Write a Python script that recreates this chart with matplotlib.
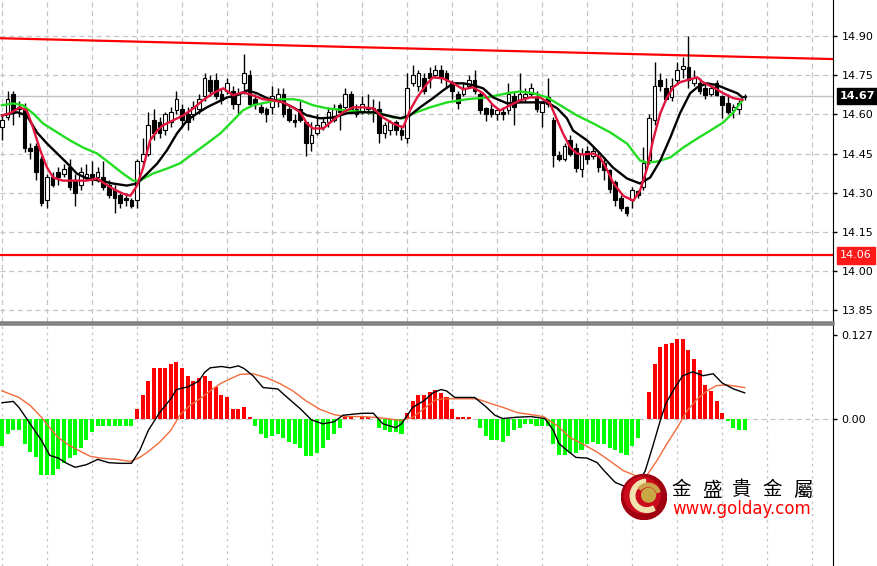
import numpy as np
import matplotlib
matplotlib.use("Agg")
import matplotlib.pyplot as plt
from matplotlib.patches import Circle, Wedge

plt.rcParams['font.family'] = ['DejaVu Sans', 'Noto Sans CJK TC']

# ---- candles (one per bar, bar 0 .. 132) ----
opens = [14.55, 14.59, 14.68, 14.63, 14.62, 14.47, 14.48, 14.43, 14.27, 14.36,
         14.38, 14.37, 14.40, 14.35, 14.33, 14.36, 14.37, 14.36, 14.36, 14.33,
         14.31, 14.29, 14.28, 14.27, 14.27, 14.42, 14.45, 14.58, 14.57, 14.54,
         14.57, 14.615, 14.62, 14.60, 14.60, 14.62, 14.67, 14.73, 14.73, 14.68,
         14.69, 14.69, 14.64, 14.72, 14.75, 14.66, 14.63, 14.62, 14.63, 14.65,
         14.68, 14.62, 14.58, 14.62, 14.57, 14.49, 14.53, 14.55, 14.57, 14.58,
         14.635, 14.63, 14.68, 14.62, 14.61, 14.63, 14.62, 14.62, 14.53, 14.54,
         14.57, 14.54, 14.51, 14.72, 14.71, 14.74, 14.76, 14.75, 14.77, 14.76,
         14.72, 14.68, 14.68, 14.71, 14.73, 14.68, 14.625, 14.62, 14.60, 14.61,
         14.615, 14.67, 14.655, 14.665, 14.68, 14.665, 14.61, 14.665, 14.58, 14.445,
         14.43, 14.50, 14.47, 14.39, 14.46, 14.44, 14.44, 14.415, 14.385, 14.34,
         14.28, 14.245, 14.27, 14.305, 14.32, 14.425, 14.577, 14.73, 14.70, 14.665,
         14.73, 14.775, 14.78, 14.72, 14.72, 14.70, 14.68, 14.72, 14.67, 14.645,
         14.615, 14.62, 14.665]
highs = [14.60, 14.69, 14.69, 14.65, 14.645, 14.49, 14.49, 14.44, 14.37, 14.38,
         14.40, 14.41, 14.43, 14.37, 14.40, 14.41, 14.42, 14.40, 14.42, 14.35,
         14.33, 14.30, 14.30, 14.28, 14.43, 14.51, 14.61, 14.62, 14.59, 14.61,
         14.63, 14.69, 14.64, 14.63, 14.65, 14.68, 14.76, 14.75, 14.76, 14.70,
         14.74, 14.71, 14.70, 14.83, 14.77, 14.68, 14.64, 14.63, 14.71, 14.70,
         14.70, 14.63, 14.60, 14.65, 14.57, 14.57, 14.60, 14.59, 14.63, 14.64,
         14.645, 14.70, 14.69, 14.64, 14.67, 14.68, 14.66, 14.65, 14.57, 14.58,
         14.58, 14.56, 14.76, 14.79, 14.77, 14.76, 14.78, 14.79, 14.79, 14.77,
         14.73, 14.69, 14.72, 14.75, 14.77, 14.69, 14.63, 14.64, 14.62, 14.63,
         14.72, 14.69, 14.76, 14.70, 14.72, 14.69, 14.65, 14.74, 14.59, 14.46,
         14.49, 14.52, 14.49, 14.47, 14.48, 14.48, 14.46, 14.43, 14.39, 14.35,
         14.29, 14.25, 14.32, 14.31, 14.475, 14.60, 14.80, 14.76, 14.74, 14.74,
         14.80, 14.82, 14.90, 14.77, 14.74, 14.72, 14.71, 14.73, 14.675, 14.68,
         14.64, 14.655, 14.68]
lows = [14.50, 14.58, 14.56, 14.59, 14.455, 14.43, 14.35, 14.25, 14.24, 14.32,
        14.33, 14.36, 14.31, 14.25, 14.31, 14.35, 14.33, 14.34, 14.31, 14.28,
        14.22, 14.24, 14.25, 14.24, 14.24, 14.41, 14.44, 14.50, 14.51, 14.52,
        14.55, 14.60, 14.55, 14.54, 14.58, 14.60, 14.65, 14.67, 14.66, 14.64,
        14.68, 14.62, 14.60, 14.68, 14.63, 14.62, 14.60, 14.57, 14.60, 14.63,
        14.59, 14.57, 14.55, 14.57, 14.44, 14.46, 14.52, 14.54, 14.55, 14.57,
        14.54, 14.61, 14.61, 14.59, 14.60, 14.60, 14.57, 14.49, 14.51, 14.52,
        14.52, 14.50, 14.49, 14.71, 14.69, 14.68, 14.70, 14.74, 14.72, 14.70,
        14.66, 14.62, 14.67, 14.70, 14.68, 14.60, 14.575, 14.59, 14.58, 14.58,
        14.60, 14.56, 14.65, 14.65, 14.67, 14.61, 14.55, 14.63, 14.40, 14.42,
        14.42, 14.44, 14.38, 14.36, 14.41, 14.43, 14.38, 14.35, 14.30, 14.25,
        14.23, 14.21, 14.24, 14.28, 14.31, 14.41, 14.56, 14.69, 14.655, 14.65,
        14.72, 14.74, 14.70, 14.71, 14.68, 14.66, 14.67, 14.67, 14.585, 14.60,
        14.585, 14.60, 14.655]
closes = [14.58, 14.66, 14.61, 14.62, 14.47, 14.46, 14.38, 14.26, 14.36, 14.33,
          14.36, 14.39, 14.32, 14.30, 14.38, 14.37, 14.36, 14.38, 14.32, 14.29,
          14.28, 14.26, 14.27, 14.25, 14.42, 14.45, 14.56, 14.53, 14.53, 14.60,
          14.61, 14.66, 14.58, 14.57, 14.63, 14.66, 14.74, 14.69, 14.67, 14.655,
          14.72, 14.64, 14.68, 14.76, 14.64, 14.64, 14.61, 14.60, 14.67, 14.68,
          14.60, 14.58, 14.57, 14.58, 14.49, 14.52, 14.56, 14.57, 14.61, 14.62,
          14.61, 14.68, 14.62, 14.60, 14.64, 14.62, 14.62, 14.53, 14.56, 14.57,
          14.54, 14.52, 14.70, 14.75, 14.76, 14.69, 14.74, 14.77, 14.74, 14.73,
          14.69, 14.645, 14.70, 14.73, 14.69, 14.615, 14.60, 14.60, 14.615, 14.60,
          14.68, 14.63, 14.68, 14.68, 14.70, 14.62, 14.645, 14.64, 14.445, 14.43,
          14.48, 14.45, 14.395, 14.45, 14.43, 14.46, 14.40, 14.385, 14.315, 14.27,
          14.24, 14.22, 14.31, 14.29, 14.415, 14.585, 14.71, 14.71, 14.66, 14.71,
          14.77, 14.785, 14.73, 14.74, 14.69, 14.675, 14.70, 14.675, 14.635, 14.61,
          14.63, 14.645, 14.67]

# ---- moving averages, read as (bar, price) ----
ma_fast = [(0, 14.596), (1.4, 14.604), (3.2, 14.627), (4.4, 14.615), (5.5, 14.55),
           (6.8, 14.462), (8.0, 14.396), (9.1, 14.358), (10.8, 14.346), (13.3, 14.346),
           (15.1, 14.346), (16.9, 14.354), (18.0, 14.338), (19.7, 14.315), (21.5, 14.296),
           (22.8, 14.288), (24.0, 14.327), (25.1, 14.396), (26.3, 14.50), (27.6, 14.538),
           (28.6, 14.558), (30.4, 14.577), (32.2, 14.596), (34.0, 14.623), (35.7, 14.654),
           (37.5, 14.681), (39.3, 14.70), (41.1, 14.673), (42.8, 14.685), (44.6, 14.673),
           (46.4, 14.658), (48.2, 14.654), (50.0, 14.646), (51.7, 14.627), (53.0, 14.608),
           (54.2, 14.565), (55.3, 14.546), (57.1, 14.546), (58.8, 14.577), (60.6, 14.608),
           (62.4, 14.627), (64.2, 14.627), (66.0, 14.623), (67.7, 14.588), (69.5, 14.565),
           (71.3, 14.55), (72.5, 14.615), (73.8, 14.665), (75.6, 14.719), (76.6, 14.742),
           (78.4, 14.738), (80.2, 14.719), (82.0, 14.696), (83.7, 14.704), (85.5, 14.681),
           (87.3, 14.635), (88.5, 14.615), (90.3, 14.635), (92.1, 14.654), (93.9, 14.665),
           (95.6, 14.665), (97.4, 14.642), (98.7, 14.577), (99.7, 14.527), (101.0, 14.473),
           (102.2, 14.45), (103.3, 14.446), (105.1, 14.45), (106.3, 14.435), (107.6, 14.385),
           (108.6, 14.338), (110.4, 14.288), (112.2, 14.269), (113.4, 14.308), (114.7, 14.396),
           (115.7, 14.50), (117.0, 14.604), (118.2, 14.665), (119.3, 14.704), (120.5, 14.723),
           (122.3, 14.735), (123.6, 14.742), (124.6, 14.723), (126.4, 14.704), (128.2, 14.681),
           (130.0, 14.662), (131.6, 14.656)]
ma_mid = [(0, 14.596), (2.7, 14.608), (4.4, 14.596), (6.2, 14.531), (8.0, 14.488),
          (9.8, 14.45), (11.6, 14.412), (13.3, 14.373), (15.1, 14.354), (17.4, 14.346),
          (19.7, 14.335), (22.2, 14.327), (24.0, 14.335), (25.8, 14.373), (27.6, 14.412),
          (29.3, 14.462), (31.1, 14.527), (32.9, 14.577), (34.7, 14.604), (36.4, 14.627),
          (38.2, 14.646), (40.0, 14.665), (41.8, 14.673), (43.6, 14.692), (45.3, 14.681),
          (47.1, 14.662), (49.4, 14.65), (51.7, 14.627), (54.2, 14.596), (56.5, 14.585),
          (58.8, 14.588), (61.3, 14.604), (63.6, 14.608), (66.0, 14.608), (68.4, 14.596),
          (70.8, 14.585), (72.5, 14.596), (74.3, 14.627), (76.6, 14.662), (78.4, 14.692),
          (80.2, 14.719), (82.0, 14.719), (83.7, 14.712), (85.5, 14.70), (87.3, 14.665),
          (89.8, 14.642), (92.1, 14.646), (94.4, 14.646), (96.9, 14.646), (98.7, 14.623),
          (100.4, 14.585), (101.5, 14.538), (104.0, 14.50), (106.3, 14.45), (108.6, 14.396),
          (111.1, 14.354), (113.4, 14.335), (115.2, 14.358), (117.0, 14.423), (118.8, 14.512),
          (120.5, 14.604), (122.3, 14.681), (123.6, 14.704), (125.3, 14.719), (127.1, 14.712),
          (128.9, 14.696), (130.7, 14.681), (131.6, 14.665)]
ma_slow = [(0, 14.635), (2.0, 14.642), (3.7, 14.635), (5.5, 14.604), (7.3, 14.565),
           (9.8, 14.531), (12.1, 14.50), (14.4, 14.473), (16.9, 14.45), (19.2, 14.412),
           (21.5, 14.373), (23.3, 14.346), (24.5, 14.346), (26.8, 14.373), (29.3, 14.392),
           (31.6, 14.412), (34.0, 14.45), (36.4, 14.488), (38.8, 14.527), (41.1, 14.577),
           (42.8, 14.615), (44.6, 14.635), (47.1, 14.646), (49.4, 14.658), (51.7, 14.658),
           (53.0, 14.654), (55.3, 14.635), (57.8, 14.623), (61.3, 14.615), (64.9, 14.608),
           (67.2, 14.604), (69.5, 14.588), (71.3, 14.585), (73.1, 14.604), (76.1, 14.627),
           (79.1, 14.646), (82.7, 14.658), (86.2, 14.665), (89.8, 14.681), (92.1, 14.688),
           (94.4, 14.681), (96.9, 14.665), (99.2, 14.635), (102.2, 14.596), (105.1, 14.565),
           (108.1, 14.531), (111.1, 14.488), (113.4, 14.423), (114.7, 14.415), (116.4, 14.419),
           (118.8, 14.435), (121.1, 14.473), (123.6, 14.508), (125.9, 14.538), (128.2, 14.569),
           (130.0, 14.608), (131.6, 14.654)]

# ---- MACD panel ----
macd_hist = [-0.041, -0.023, -0.018, -0.018, -0.038, -0.051, -0.059, -0.086, -0.086, -0.086,
             -0.076, -0.067, -0.060, -0.056, -0.044, -0.033, -0.021, -0.011, -0.011, -0.011,
             -0.012, -0.012, -0.011, -0.011, 0.015, 0.036, 0.057, 0.076, 0.077, 0.077,
             0.083, 0.086, 0.076, 0.065, 0.057, 0.062, 0.064, 0.057, 0.048, 0.035,
             0.033, 0.014, 0.014, 0.018, 0.002, -0.012, -0.023, -0.030, -0.026, -0.023,
             -0.030, -0.036, -0.038, -0.044, -0.057, -0.057, -0.053, -0.045, -0.033, -0.023,
             -0.014, 0.002, 0.002, 0.0, 0.002, 0.002, 0.0, -0.014, -0.018, -0.021,
             -0.021, -0.023, 0.008, 0.027, 0.036, 0.036, 0.041, 0.044, 0.039, 0.032,
             0.015, 0.002, 0.002, 0.002, 0.0, -0.015, -0.026, -0.032, -0.032, -0.036,
             -0.026, -0.018, -0.014, -0.009, -0.009, -0.011, -0.011, -0.012, -0.038, -0.056,
             -0.056, -0.053, -0.053, -0.048, -0.038, -0.036, -0.038, -0.039, -0.044, -0.048,
             -0.053, -0.056, -0.042, -0.030, 0.0, 0.041, 0.083, 0.109, 0.113, 0.115,
             0.121, 0.121, 0.104, 0.091, 0.073, 0.051, 0.042, 0.027, 0.009, -0.003,
             -0.015, -0.017, -0.017]
macd_main = [(0, 0.024), (2, 0.026), (3, 0.017), (5, -0.008), (7, -0.033), (8.5, -0.056),
             (10, -0.060), (11.5, -0.068), (13, -0.074), (15, -0.070), (17, -0.062), (19, -0.067),
             (21, -0.068), (23, -0.068), (24.5, -0.048), (26, -0.018), (28, 0.009), (30, 0.030),
             (31, 0.044), (33, 0.048), (35, 0.057), (36, 0.070), (37, 0.077), (39, 0.079),
             (40.5, 0.077), (42, 0.080), (43, 0.076), (44.6, 0.065), (46.4, 0.047), (49, 0.045),
             (50.7, 0.032), (53, 0.015), (55, -0.002), (57, -0.008), (59, -0.005), (60.6, 0.005),
             (64, 0.008), (66, 0.008), (67.7, -0.008), (70, -0.014), (71, -0.008), (73, 0.017),
             (75, 0.027), (76.6, 0.039), (78, 0.044), (79, 0.042), (80.5, 0.032), (82, 0.032),
             (84, 0.032), (86, 0.018), (87.6, 0.005), (89, 0.0), (91.5, 0.002), (94, 0.003),
             (96.5, 0.0), (98, -0.018), (99, -0.038), (100.4, -0.048), (102, -0.059), (104, -0.060),
             (105.8, -0.067), (107, -0.079), (109, -0.097), (111, -0.104), (112.5, -0.104),
             (114.3, -0.080), (115.6, -0.044), (117, -0.003), (118, 0.023), (119.6, 0.047),
             (121, 0.065), (122.8, 0.071), (124.6, 0.065), (126.4, 0.068), (128, 0.054),
             (130, 0.045), (132, 0.039)]
macd_signal = [(0, 0.042), (3, 0.032), (5, 0.020), (7, 0.002), (8.5, -0.014), (10, -0.029),
               (12, -0.041), (14, -0.050), (15.6, -0.057), (17.4, -0.060), (20.4, -0.062),
               (22.8, -0.065), (24.5, -0.059), (26, -0.050), (28, -0.036), (30, -0.018),
               (31.6, 0.005), (33.4, 0.020), (35.2, 0.030), (37, 0.042), (38.8, 0.053),
               (40.5, 0.060), (42.3, 0.067), (44.6, 0.068), (47, 0.062), (49.4, 0.053),
               (51.7, 0.042), (54, 0.027), (56.5, 0.014), (59, 0.006), (61, 0.003), (63.6, 0.003),
               (66, 0.002), (68.4, 0.0), (70.8, -0.003), (73, 0.002), (75, 0.015), (77, 0.028),
               (78.4, 0.030), (82, 0.030), (84.4, 0.030), (86.8, 0.023), (89, 0.017), (91.6, 0.009),
               (94, 0.006), (96.2, 0.003), (98.7, -0.011), (101, -0.029), (103.3, -0.039),
               (105.8, -0.051), (108, -0.064), (110.4, -0.079), (113, -0.088), (114.7, -0.085),
               (116.4, -0.064), (118.2, -0.038), (120, -0.014), (121.8, 0.012), (123.6, 0.030),
               (125.3, 0.042), (127, 0.050), (128.9, 0.051), (132, 0.047)]

price_ticks = [13.85, 14.00, 14.15, 14.30, 14.45, 14.60, 14.75, 14.90]
top_tick = 15.05
last_price = 14.67
support = 14.06
trend_start, trend_end = 14.892, 14.812
macd_ticks = [0.0, 0.127]
logo_name = "金盛貴金屬"
logo_url = "www.golday.com"

W, H = 877, 566
fig = plt.figure(figsize=(W / 100, H / 100), dpi=100)
ax = fig.add_axes([0, 1 - 322 / H, 833 / W, 322 / H])
ax2 = fig.add_axes([0, 0, 833 / W, 242 / H])

xmin, xmax = -0.36, 147.7
grid_kw = dict(color='#c4c4c4', linewidth=0.9)

# ---------- main price panel ----------
ax.set_xlim(xmin, xmax)
ax.set_ylim(13.804, 15.0385)
ax.set_xticks(np.arange(0, 148, 8))
ax.set_yticks(price_ticks)
ax.grid(True, linestyle=(0, (4, 3)), **grid_kw)
ax.set_axisbelow(True)

ax.axhline(last_price, color='#c0c0c0', lw=1, zorder=1)
ax.axhline(support, color='#ff0000', lw=1.6, zorder=2)
ax.plot([xmin, xmax], [trend_start, trend_end], color='#ff0000', lw=1.6, zorder=2)

bars = np.arange(len(opens))
o = np.array(opens); c = np.array(closes)
ax.vlines(bars, lows, highs, color='black', lw=1, zorder=3)
up = c >= o
body = np.where(np.abs(c - o) < 0.004, 0.004, c - o)
ax.bar(bars[up], body[up], bottom=o[up], width=0.65, color='white',
       edgecolor='black', linewidth=0.8, zorder=4)
ax.bar(bars[~up], body[~up], bottom=o[~up], width=0.65, color='black',
       edgecolor='black', linewidth=0.8, zorder=4)

for pts, col in [(ma_slow, '#22dd22'), (ma_mid, 'black'), (ma_fast, '#e0143c')]:
    xs, ys = np.array(pts).T
    ax.plot(xs, ys, color=col, lw=1.7, zorder=5)

ax.yaxis.tick_right()
ax.tick_params(axis='y', direction='out', length=3, width=1, pad=3,
               labelsize=8, colors='black')
ax.tick_params(axis='x', length=0, labelbottom=False)
ax.set_yticklabels([f"{v:.2f}" for v in price_ticks])
for side in ['left', 'top']:
    ax.spines[side].set_visible(False)
ax.spines['right'].set_color('black')
ax.spines['bottom'].set_color('#808080')
ax.spines['bottom'].set_linewidth(1.8)

ytr = ax.get_yaxis_transform()
ax.text(1.0095, top_tick, f"{top_tick:.2f}", transform=ytr, fontsize=8,
        va='center', ha='left', clip_on=False)
ax.text(1.0085, last_price, f"{last_price:.2f}", transform=ytr, fontsize=8,
        color='white', fontweight='bold', va='center', ha='left',
        bbox=dict(boxstyle='square,pad=0.3', fc='black', ec='black'))
ax.text(1.0085, support, f"{support:.2f}", transform=ytr, fontsize=8,
        color='white', va='center', ha='left',
        bbox=dict(boxstyle='square,pad=0.3', fc='#ff1a1a', ec='#ff1a1a'))

# ---------- MACD panel ----------
ax2.set_xlim(xmin, xmax)
ax2.set_ylim(-0.2238, 0.1435)
ax2.set_xticks(np.arange(0, 148, 8))
ax2.grid(True, axis='x', linestyle=(0, (2, 3)), **grid_kw)
ax2.set_axisbelow(True)
ax2.axhline(0, linestyle=(0, (4, 3)), zorder=1, **grid_kw)

h = np.array(macd_hist)
hb = np.arange(len(h))
ax2.bar(hb[h >= 0], h[h >= 0], width=0.72, color='#ff0000', zorder=2)
ax2.bar(hb[h < 0], h[h < 0], width=0.72, color='#00ff00', zorder=2)
xs, ys = np.array(macd_signal).T
ax2.plot(xs, ys, color='#f26a3a', lw=1.0, zorder=3)
xs, ys = np.array(macd_main).T
ax2.plot(xs, ys, color='black', lw=1.0, zorder=4)

ax2.yaxis.tick_right()
ax2.set_yticks(macd_ticks)
ax2.set_yticklabels(['0.00', '0.127'])
ax2.tick_params(axis='y', direction='out', length=3, width=1, pad=3, labelsize=8)
ax2.tick_params(axis='x', length=0, labelbottom=False)
for side in ['left', 'bottom']:
    ax2.spines[side].set_visible(False)
ax2.spines['right'].set_color('black')
ax2.spines['top'].set_color('#808080')
ax2.spines['top'].set_linewidth(1.8)

# ---------- watermark logo ----------
lax = fig.add_axes([621 / W, 1 - 520 / H, 46 / W, 46 / H])
lax.set_xlim(-1, 1); lax.set_ylim(-1, 1); lax.axis('off')
lax.add_patch(Circle((0, 0), 0.98, color='#a0000f'))
lax.add_patch(Circle((-0.08, 0.08), 0.78, color='#cc0a1e'))
lax.add_patch(Wedge((0.12, 0.05), 0.72, 95, 300, width=0.2, color='#f1e2b0'))
lax.add_patch(Wedge((0.18, 0.05), 0.55, 20, 140, width=0.14, color='#c9a44a'))
lax.add_patch(Circle((0.2, 0.08), 0.3, color='#c8a845'))

for k, ch in enumerate(logo_name):
    fig.text((681 + 30.5 * k) / W, 1 - 490 / H, ch, fontsize=14, ha='center',
             va='center', color='black', family=['Noto Sans CJK TC'])
fig.text(672 / W, 1 - 509 / H, logo_url, fontsize=12, ha='left', va='center',
         color='#ff0000')

fig.savefig('out.png', dpi=100, facecolor='white')
